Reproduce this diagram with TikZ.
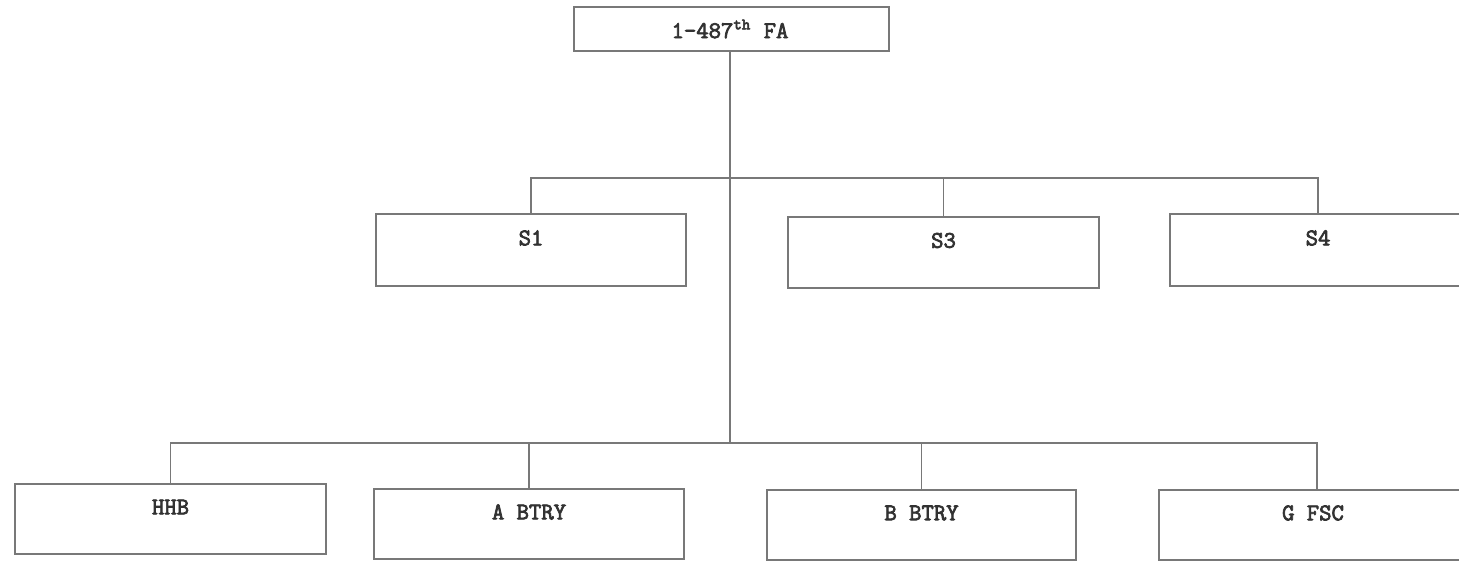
\documentclass[tikz,border=0pt]{standalone}
\usepackage{fontspec}
\newfontfamily\lbltt{Latin Modern Mono}[FakeBold=3]
\definecolor{linegray}{RGB}{120,120,120}
\definecolor{textgray}{RGB}{50,50,50}
\begin{document}
\begin{tikzpicture}[x=0.5pt,y=-0.5pt,
  orgbox/.style={draw=linegray, line width=0.9pt, rectangle, inner sep=0pt, outer sep=0pt, minimum height=35pt},
  lbl/.style={font=\lbltt\fontsize{12}{14}\selectfont, text=textgray, inner sep=0pt},
  conn/.style={draw=linegray, line width=0.9pt}]
\useasboundingbox (0,0) rectangle (1459,561);
\clip (0,0) rectangle (1459,561);
% boxes
\node[orgbox, minimum width=157.5pt, minimum height=22pt] (top) at (731.5,29) {};
\node[orgbox, minimum width=155pt, minimum height=36pt] (s1) at (531,250) {};
\node[orgbox, minimum width=155.5pt, minimum height=35.5pt] (s3) at (943.5,252.5) {};
\node[orgbox, minimum width=148pt, minimum height=36pt] (s4) at (1318,250) {};
\node[orgbox, minimum width=155.5pt] (hhb) at (170.5,519) {};
\node[orgbox, minimum width=155pt] (abtry) at (529,524) {};
\node[orgbox, minimum width=154.5pt] (bbtry) at (921.5,525) {};
\node[orgbox, minimum width=158pt] (gfsc) at (1317,525) {};
% labels
\node[lbl] (topt) at (730,29) {1-487\textsuperscript{th} FA};
\node[lbl] (s1t) at (531,238) {S1};
\node[lbl] (s3t) at (943.5,240.5) {S3};
\node[lbl] (s4t) at (1318,238) {S4};
\node[lbl] (hhbt) at (170.5,507) {HHB};
\node[lbl] (abtryt) at (529,512) {A BTRY};
\node[lbl] (bbtryt) at (921.5,513) {B BTRY};
\node[lbl] (gfsct) at (1313,513) {G FSC};
% connectors
\coordinate (ub) at (730,178);
\coordinate (lb) at (730,443);
\draw[conn] (top.south -| lb) -- (lb);
\draw[conn] (s1.north) |- (ub) -| (s4.north);
\draw[conn] (s3.north) |- (ub);
\draw[conn] (hhb.north) |- (lb) -| (gfsc.north);
\draw[conn] (abtry.north) |- (lb);
\draw[conn] (bbtry.north) |- (lb);
\end{tikzpicture}
\end{document}
